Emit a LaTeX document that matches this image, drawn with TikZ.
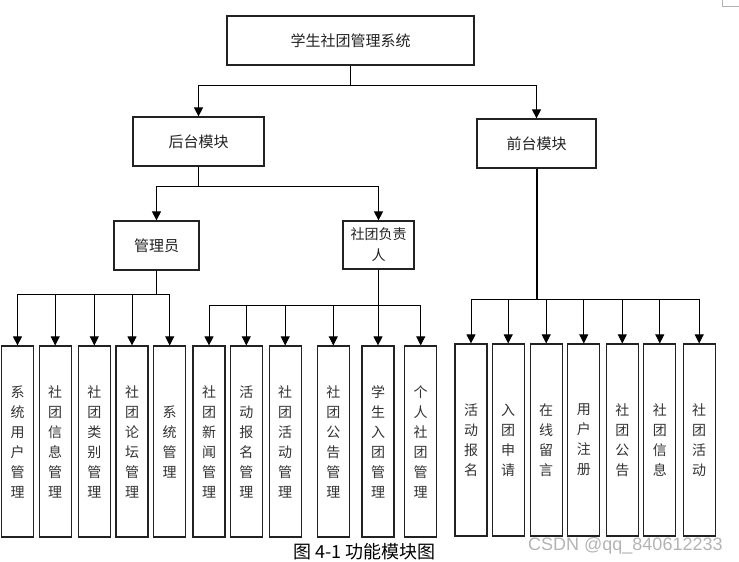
\documentclass[tikz,border=0pt]{standalone}
\usepackage{fontspec}
\newfontfamily\cjk{Noto Sans CJK SC}
\setsansfont{Liberation Sans}
\usetikzlibrary{arrows.meta}
\definecolor{ink}{HTML}{222222}
\definecolor{leafink}{HTML}{333333}
\definecolor{wm}{HTML}{B4B4B4}
\tikzset{
  box/.style={draw=ink, line width=1.2pt, fill=white, inner sep=0pt, text=ink,
              font=\cjk\fontsize{15}{20}\selectfont, align=center},
  leaf/.style={box, minimum width=32pt, minimum height=191pt, text=leafink,
              font=\cjk\fontsize{14}{20}\selectfont},
  fleaf/.style={leaf, minimum height=192pt},
  conn/.style={draw=black, line width=0.9pt},
  arr/.style={conn, -{Triangle[length=9pt,width=9pt]}},
}
\begin{document}
\begin{tikzpicture}[x=1pt,y=-1pt]
\useasboundingbox (0,0) rectangle (739,562);
% top level
\node[box, minimum width=247pt, minimum height=49pt] (top) at (350.5,40.5) {学生社团管理系统};
\node[box, minimum width=131pt, minimum height=49pt] (back) at (198.5,141.5) {后台模块};
\node[box, minimum width=119pt, minimum height=49pt] (front) at (536.5,143.5) {前台模块};
\node[box, minimum width=85pt, minimum height=49pt] (admin) at (156.5,245.5) {管理员};
\node[box, minimum width=71pt, minimum height=48pt, font=\cjk\fontsize{14}{21}\selectfont] (leader) at (378.5,245) {社团负责\\人};
% admin leaves
\node[leaf] (a1) at (17.5,441.5) {系\\统\\用\\户\\管\\理};
\node[leaf] (a2) at (55.2,441.5) {社\\团\\信\\息\\管\\理};
\node[leaf] (a3) at (94.3,441.5) {社\\团\\类\\别\\管\\理};
\node[leaf] (a4) at (132,441.5) {社\\团\\论\\坛\\管\\理};
\node[leaf] (a5) at (169.7,441.5) {系\\统\\管\\理};
% leader leaves
\node[leaf] (l1) at (209,441.5) {社\\团\\新\\闻\\管\\理};
\node[leaf] (l2) at (246.3,441.5) {活\\动\\报\\名\\管\\理};
\node[leaf] (l3) at (285.2,441.5) {社\\团\\活\\动\\管\\理};
\node[leaf] (l4) at (333.3,441.5) {社\\团\\公\\告\\管\\理};
\node[leaf] (l5) at (378,441.5) {学\\生\\入\\团\\管\\理};
\node[leaf] (l6) at (420.7,441.5) {个\\人\\社\\团\\管\\理};
% front leaves
\node[fleaf] (f1) at (471,440) {活\\动\\报\\名};
\node[fleaf] (f2) at (508.2,440) {入\\团\\申\\请};
\node[fleaf] (f3) at (546.2,440) {在\\线\\留\\言};
\node[fleaf] (f4) at (583.8,440) {用\\户\\注\\册};
\node[fleaf] (f5) at (622.3,440) {社\\团\\公\\告};
\node[fleaf] (f6) at (659.8,440) {社\\团\\信\\息};
\node[fleaf] (f7) at (699.2,440) {社\\团\\活\\动};
% junctions
\coordinate (jt) at (350.5,85.3);
\coordinate (jb) at (198.5,186.3);
\coordinate (ja) at (156.5,294);
\coordinate (jl) at (378.5,305.5);
\coordinate (jf) at (536.5,299.3);
% connectors
\draw[conn] (top.south) -- (jt);
\draw[arr] (jt) -| (back.north);
\draw[arr] (jt) -| (front.north);
\draw[conn] (back.south) -- (jb);
\draw[arr] (jb) -| (admin.north);
\draw[arr] (jb) -| (leader.north);
\draw[conn] (admin.south) -- (ja);
\foreach \n in {a1,a2,a3,a4,a5} \draw[arr] (ja) -| (\n.north);
\draw[conn] (leader.south) -- (jl);
\foreach \n in {l1,l2,l3,l4,l5,l6} \draw[arr] (jl) -| (\n.north);
\draw[conn, line width=2pt] (front.south) -- (jf);
\foreach \n in {f1,f2,f3,f4,f5,f6,f7} \draw[arr] (jf) -| (\n.north);
% caption and watermark
\node[text=black, font=\cjk\fontsize{18}{20}\selectfont, inner sep=0pt, anchor=base] (cap) at (364.5,558.5) {图 4-1 功能模块图};
\node[text=wm, font=\sffamily\fontsize{18}{20}\selectfont, inner sep=0pt, anchor=base west] (wmk) at (528,550) {CSDN @qq\_840612233};
% corner mark
\draw[draw=gray!60, line width=0.8pt] (722,0) -- (722,6) -- (739,6);
\end{tikzpicture}
\end{document}
